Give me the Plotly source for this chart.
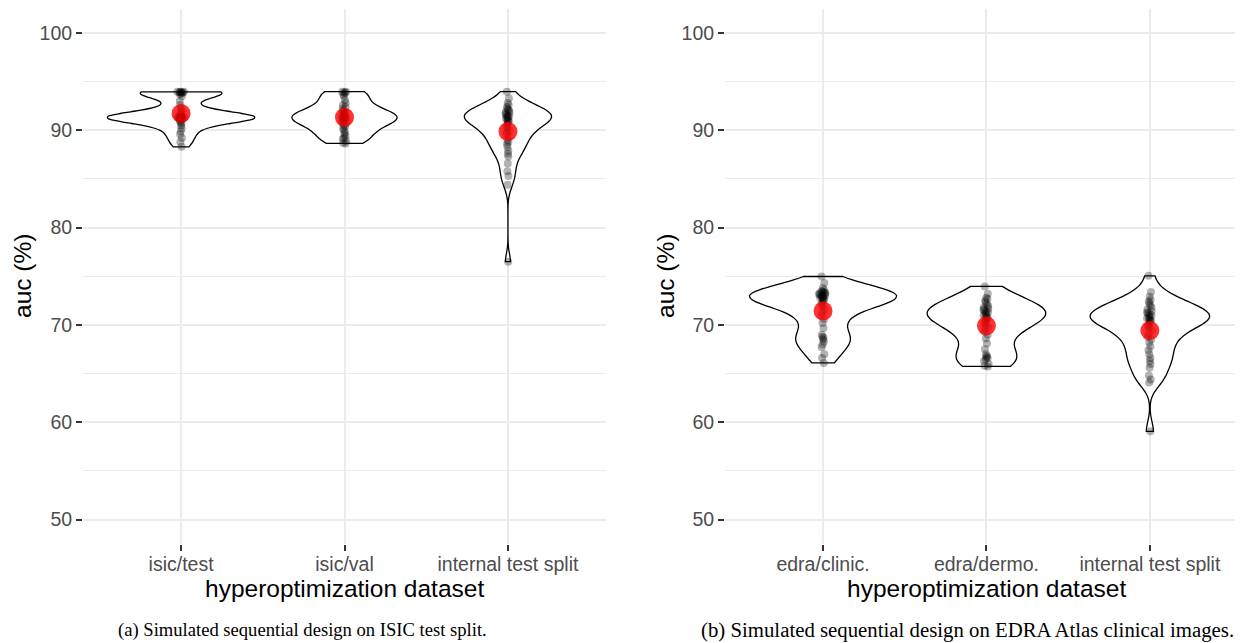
import numpy as np
import plotly.graph_objects as go

# the page body has an 8px margin, so the figure is drawn 8px in from the top-left
OFF = 8
W, H = 1243 - OFF, 643 - OFF

left_categories = ["isic/test", "isic/val", "internal test split"]
right_categories = ["edra/clinic.", "edra/dermo.", "internal test split"]

isic_test_auc = [93.95, 93.95, 93.95, 93.9, 93.9, 93.9, 93.85, 93.8, 93.7, 93.5,
                 93.0, 92.6, 92.3, 92.0, 91.8, 91.65, 91.55, 91.5, 91.45, 91.4,
                 91.4, 91.35, 91.35, 91.3, 91.3, 91.25, 91.25, 91.2, 91.15, 91.1,
                 91.0, 90.85, 90.7, 90.5, 90.2, 89.9, 89.6, 89.2, 88.8, 88.3]
isic_val_auc = [93.97, 93.95, 93.9, 93.85, 93.7, 93.5,
                93.1, 92.8, 92.6, 92.4, 92.2, 92.0, 91.9, 91.8, 91.7, 91.6,
                91.5, 91.45, 91.4, 91.35, 91.3, 91.25, 91.2, 91.1, 91.0, 90.9,
                90.8, 90.7, 90.55, 90.4, 90.2, 90.0, 89.8, 89.6, 89.4, 89.2, 89.1,
                88.9, 88.7, 88.65]
isic_internal_auc = [93.97, 93.3, 92.8, 92.6, 92.4, 92.2, 92.1, 92.0, 91.9, 91.8,
                     91.7, 91.6, 91.5, 91.45, 91.4, 91.3, 91.2, 91.1, 91.0, 90.9,
                     90.8, 90.6, 90.4, 90.2, 90.0, 89.8, 89.6, 89.3, 89.0, 88.8,
                     88.6, 88.3, 87.9, 87.6, 87.3, 86.6, 85.8, 85.3, 84.4, 76.5]

edra_clinic_auc = [74.98, 74.3, 73.8, 73.6, 73.5, 73.4, 73.35, 73.3, 73.25, 73.2, 73.15,
                   73.1, 73.05, 73.0, 72.95, 72.9, 72.8, 72.75, 72.7, 72.6, 72.5, 72.3,
                   72.1, 71.9, 71.6, 71.3, 71.0, 70.6, 70.2, 69.7, 69.0,
                   68.8, 68.7, 68.5, 68.3, 68.0, 67.7, 67.0, 66.6, 66.1]
edra_dermo_auc = [73.96, 73.2, 72.7, 72.8, 72.5, 72.3, 72.1, 71.95, 71.8, 71.7,
                  71.6, 71.5, 71.4, 71.3, 71.2, 71.1, 71.0, 70.9, 70.8, 70.7,
                  70.55, 70.4, 70.2, 70.0, 69.8, 69.6, 69.3, 69.0, 68.6, 68.1,
                  67.5, 67.0, 66.8, 66.7, 66.6, 66.5, 66.3, 66.0, 65.8, 65.74]
edra_internal_auc = [75.05, 73.4, 72.9, 72.6, 72.4, 72.2, 72.0, 71.8, 71.6, 71.4,
                     71.3, 71.2, 71.1, 71.0, 70.9, 70.8, 70.7, 70.6, 70.5, 70.4,
                     70.3, 70.1, 69.9, 69.7, 69.4, 69.1, 68.8, 68.5, 68.2, 67.8,
                     67.4, 67.0, 66.6, 66.3, 66.0, 65.6, 64.8, 64.4, 64.1, 59.07]

# kernel bandwidth multipliers (like ggplot's `adjust`)
left_adjust = [0.8, 1.2, 0.9]
right_adjust = [1.0, 1.15, 0.85]

y_tick_values = [50, 60, 70, 80, 90, 100]
y_tick_labels = ["50", "60", "70", "80", "90", "100"]
y_minor_values = [55, 65, 75, 85, 95]

x_title = "hyperoptimization dataset"
y_title = "auc (%)"
caption_a = "(a) Simulated sequential design on ISIC test split."
caption_b = "(b) Simulated sequential design on EDRA Atlas clinical images."


def nrd0(v):
    v = np.asarray(v, dtype=float)
    sd = np.std(v, ddof=1)
    iqr = np.subtract(*np.percentile(v, [75, 25]))
    lo = min(sd, iqr / 1.34)
    if lo <= 0:
        lo = sd
    return 0.9 * lo * len(v) ** -0.2


def kde_max(v, bw):
    v = np.asarray(v, dtype=float)
    grid = np.linspace(v.min(), v.max(), 512)
    z = (grid[:, None] - v[None, :]) / bw
    dens = np.exp(-0.5 * z ** 2).sum(axis=1) / (len(v) * bw * np.sqrt(2 * np.pi))
    return dens.max()


fig = go.Figure()
panels = [
    ("x", "y", left_categories, [isic_test_auc, isic_val_auc, isic_internal_auc], left_adjust),
    ("x2", "y2", right_categories, [edra_clinic_auc, edra_dermo_auc, edra_internal_auc], right_adjust),
]
for xa, ya, cats, groups, adj in panels:
    bws = [nrd0(v) * a for v, a in zip(groups, adj)]
    peaks = [kde_max(v, b) for v, b in zip(groups, bws)]
    top = max(peaks)
    for i, (cat, vals) in enumerate(zip(cats, groups)):
        fig.add_trace(go.Violin(
            x=[cat] * len(vals), y=vals, xaxis=xa, yaxis=ya,
            spanmode="hard", bandwidth=bws[i],
            scalemode="width", scalegroup=f"{xa}{i}", width=0.9 * peaks[i] / top,
            fillcolor="white", line=dict(color="black", width=1.3),
            points="all", pointpos=0, jitter=0.06,
            marker=dict(color="rgba(0,0,0,0.3)", size=8, line=dict(width=0)),
            box_visible=False, meanline_visible=False, hoverinfo="skip",
        ))
    means = [float(np.mean(v)) for v in groups]
    fig.add_trace(go.Scatter(
        x=cats, y=means, xaxis=xa, yaxis=ya, mode="markers",
        marker=dict(color="rgba(255,0,0,0.8)", size=19, line=dict(width=0)),
        hoverinfo="skip",
    ))

tick_font = dict(size=19.5, color="#4D4D4D", family="Liberation Sans, Arial, sans-serif")
xcommon = dict(type="category", showgrid=True, gridcolor="#EBEBEB", gridwidth=2,
               ticks="outside", ticklen=6, tickwidth=2, tickcolor="#333333",
               ticklabelstandoff=-3,
               tickfont=tick_font, showline=False, zeroline=False)
ycommon = dict(range=[47.5, 102.5], tickvals=y_tick_values, ticktext=y_tick_labels,
               showgrid=True, gridcolor="#EBEBEB", gridwidth=2,
               minor=dict(tickvals=y_minor_values, showgrid=True, gridcolor="#EBEBEB", gridwidth=1.2),
               ticks="outside", ticklen=6, tickwidth=2, tickcolor="#333333",
               tickfont=tick_font, showline=False, zeroline=False)


def px(xp, yp):
    return (xp - OFF) / W, 1 - (yp - OFF) / H


y_dom = [px(0, 544)[1], px(0, 8.6)[1]]
fig.update_layout(
    width=W, height=H, margin=dict(l=0, r=0, t=0, b=0),
    paper_bgcolor="white", plot_bgcolor="white", showlegend=False,
    violinmode="overlay", violingap=0, violingroupgap=0,
    font=dict(family="Liberation Sans, Arial, sans-serif", color="black"),
    xaxis=dict(domain=[px(83, 0)[0], px(606, 0)[0]], range=[-0.6, 2.6], anchor="y", **xcommon),
    xaxis2=dict(domain=[px(725, 0)[0], 1.0], range=[-0.6, 2.57], anchor="y2", **xcommon),
    yaxis=dict(domain=y_dom, anchor="x", **ycommon),
    yaxis2=dict(domain=y_dom, anchor="x2", **ycommon),
)

annos = []
for cx in (344.5, 986):
    x, y = px(cx, 588)
    annos.append(dict(text=x_title, x=x, y=y, xref="paper", yref="paper", showarrow=False,
                      xanchor="center", yanchor="middle", font=dict(size=24.5, color="black")))
for cx in (22, 665):
    x, y = px(cx, 276)
    annos.append(dict(text=y_title, x=x, y=y, xref="paper", yref="paper", showarrow=False,
                      textangle=-90, xanchor="center", yanchor="middle",
                      font=dict(size=24.5, color="black")))
for cx, cap, fs in ((302, caption_a, 18.6), (967, caption_b, 20.8)):
    x, y = px(cx, 630)
    annos.append(dict(text=cap, x=x, y=y, xref="paper", yref="paper", showarrow=False,
                      xanchor="center", yanchor="middle",
                      font=dict(size=fs, color="black", family="Liberation Serif, Times New Roman, serif")))
fig.update_layout(annotations=annos)

fig.write_html("out.html")
